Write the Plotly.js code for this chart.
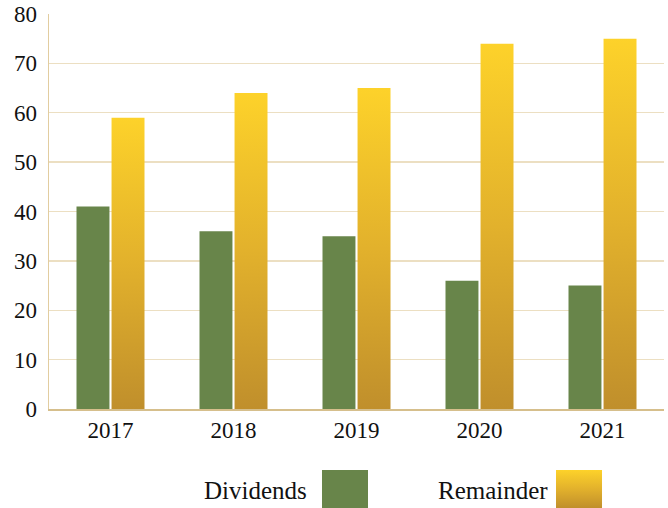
<!DOCTYPE html>
<html>
<head>
<meta charset="utf-8">
<script src="https://cdn.plot.ly/plotly-3.0.1.min.js"></script>
<style>html,body{margin:0;padding:0;background:#fff;}#chart{width:668px;height:508px;}</style>
</head>
<body>
<div id="chart"></div>
<script>
var years = ['2017', '2018', '2019', '2020', '2021'];
var dividends = [41, 36, 35, 26, 25];
var remainder = [59, 64, 65, 74, 75];
var seriesNames = ['Dividends', 'Remainder'];
var yTicks = [0, 10, 20, 30, 40, 50, 60, 70, 80];

var GREEN = '#68854a';
var GOLD = '#e0b02c';
var FONT = 'Liberation Serif';

var traces = [
  {type: 'bar', x: years, y: dividends, name: seriesNames[0], marker: {color: GREEN, line: {width: 0}}, hoverinfo: 'none'},
  {type: 'bar', x: years, y: remainder, name: seriesNames[1], marker: {color: GOLD, line: {width: 0}}, hoverinfo: 'none'}
];

var layout = {
  width: 668, height: 508,
  margin: {l: 49, r: 4, t: 14, b: 99},
  paper_bgcolor: '#ffffff', plot_bgcolor: '#ffffff',
  font: {family: FONT, size: 23, color: '#111111'},
  showlegend: false,
  barmode: 'group',
  bargap: 0.43,
  bargroupgap: 0.06,
  xaxis: {
    type: 'category',
    showgrid: false,
    showline: true, linecolor: '#d6bf8c', linewidth: 1.5,
    ticks: '', tickfont: {family: FONT, size: 23, color: '#111'},
    zeroline: false, fixedrange: true
  },
  yaxis: {
    range: [0, 80],
    tickvals: yTicks,
    showgrid: true, gridcolor: '#ecdfc2', gridwidth: 1.3,
    showline: true, linecolor: '#e2cda0', linewidth: 1.5,
    zeroline: false,
    ticks: '', ticklabelstandoff: 6,
    tickfont: {family: FONT, size: 23, color: '#111'},
    fixedrange: true
  },
  shapes: [
    {type: 'rect', xref: 'paper', yref: 'paper', x0: 0.4439, x1: 0.5187, y0: -0.2506, y1: -0.1544, fillcolor: GREEN, line: {width: 0}},
    {type: 'rect', xref: 'paper', yref: 'paper', x0: 0.8244, x1: 0.8992, y0: -0.2506, y1: -0.1544, fillcolor: GOLD, line: {width: 0}}
  ],
  annotations: [
    {xref: 'paper', yref: 'paper', x: 0.423, y: -0.207, xanchor: 'right', yanchor: 'middle', text: seriesNames[0], showarrow: false, font: {family: FONT, size: 25, color: '#111'}},
    {xref: 'paper', yref: 'paper', x: 0.815, y: -0.207, xanchor: 'right', yanchor: 'middle', text: seriesNames[1], showarrow: false, font: {family: FONT, size: 25, color: '#111'}}
  ]
};

Plotly.newPlot('chart', traces, layout, {displayModeBar: false, staticPlot: true}).then(function (gd) {
  var svg = gd.querySelector('svg.main-svg');
  var ns = 'http://www.w3.org/2000/svg';
  var defs = svg.querySelector('defs') || svg.insertBefore(document.createElementNS(ns, 'defs'), svg.firstChild);
  var lg = document.createElementNS(ns, 'linearGradient');
  lg.setAttribute('id', 'goldGrad');
  lg.setAttribute('x1', '0'); lg.setAttribute('y1', '0');
  lg.setAttribute('x2', '0'); lg.setAttribute('y2', '1');
  [['0', '#fdd22a'], ['0.5', '#e2b12c'], ['1', '#c08f2c']].forEach(function (s) {
    var st = document.createElementNS(ns, 'stop');
    st.setAttribute('offset', s[0]);
    st.setAttribute('stop-color', s[1]);
    lg.appendChild(st);
  });
  defs.appendChild(lg);
  var traceGroups = gd.querySelectorAll('.barlayer .trace');
  if (traceGroups[1]) {
    traceGroups[1].querySelectorAll('path').forEach(function (p) { p.style.fill = 'url(#goldGrad)'; });
  }
  var shapePaths = gd.querySelectorAll('.shapelayer path');
  if (shapePaths[1]) shapePaths[1].style.fill = 'url(#goldGrad)';
});
</script>
</body>
</html>
